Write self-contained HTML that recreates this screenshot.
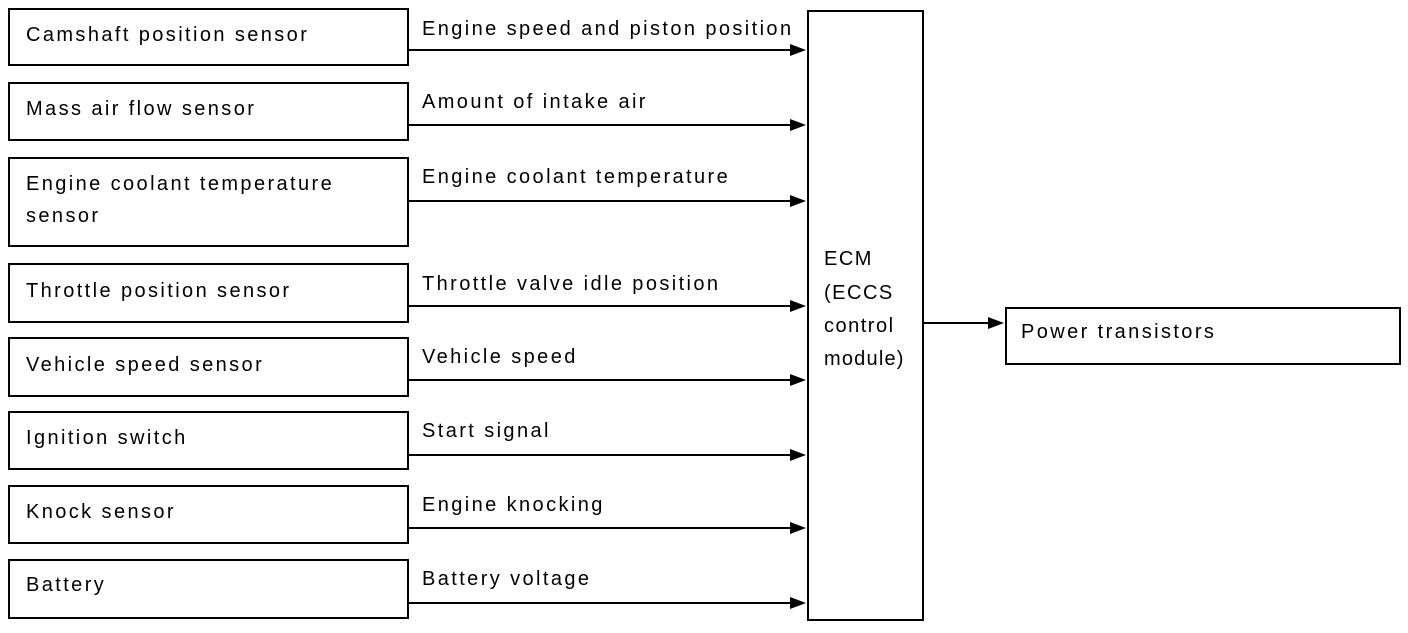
<!DOCTYPE html>
<html><head><style>
body{margin:0;width:1408px;height:628px;background:#fff;overflow:hidden}
</style></head><body>
<svg width="1408" height="628" xmlns="http://www.w3.org/2000/svg" font-family="Liberation Sans, Arial, sans-serif" font-size="20" letter-spacing="2.4" fill="#000">
<g fill="none" stroke="#000" stroke-width="2">
<rect x="9" y="9" width="399" height="56"/>
<rect x="9" y="83" width="399" height="57"/>
<rect x="9" y="158" width="399" height="88"/>
<rect x="9" y="264" width="399" height="58"/>
<rect x="9" y="338" width="399" height="58"/>
<rect x="9" y="412" width="399" height="57"/>
<rect x="9" y="486" width="399" height="57"/>
<rect x="9" y="560" width="399" height="58"/>
<rect x="808" y="11" width="115" height="609"/>
<rect x="1006" y="308" width="394" height="56"/>
<path d="M408 50H800M408 125H800M408 201H800M408 306H800M408 380H800M408 455H800M408 528H800M408 603H800M923 323H995"/>
</g>
<g>
<path d="M790 44L806 50L790 56Z"/><path d="M790 119L806 125L790 131Z"/><path d="M790 195L806 201L790 207Z"/><path d="M790 300L806 306L790 312Z"/><path d="M790 374L806 380L790 386Z"/><path d="M790 449L806 455L790 461Z"/><path d="M790 522L806 528L790 534Z"/><path d="M790 597L806 603L790 609Z"/><path d="M988 317L1004 323L988 329Z"/>
</g>
<text x="26" y="41">Camshaft position sensor</text>
<text x="26" y="115">Mass air flow sensor</text>
<text x="26" y="190">Engine coolant temperature</text>
<text x="26" y="222">sensor</text>
<text x="26" y="297">Throttle position sensor</text>
<text x="26" y="371">Vehicle speed sensor</text>
<text x="26" y="444">Ignition switch</text>
<text x="26" y="518">Knock sensor</text>
<text x="26" y="591">Battery</text>
<text x="422" y="35">Engine speed and piston position</text>
<text x="422" y="108">Amount of intake air</text>
<text x="422" y="183">Engine coolant temperature</text>
<text x="422" y="290">Throttle valve idle position</text>
<text x="422" y="363">Vehicle speed</text>
<text x="422" y="437">Start signal</text>
<text x="422" y="511">Engine knocking</text>
<text x="422" y="585">Battery voltage</text>
<text x="824" y="265" letter-spacing="1.5">ECM</text>
<text x="824" y="299" letter-spacing="1.5">(ECCS</text>
<text x="824" y="332" letter-spacing="1.5">control</text>
<text x="824" y="365" letter-spacing="1.2">module)</text>
<text x="1021" y="338">Power transistors</text>
</svg>
</body></html>
